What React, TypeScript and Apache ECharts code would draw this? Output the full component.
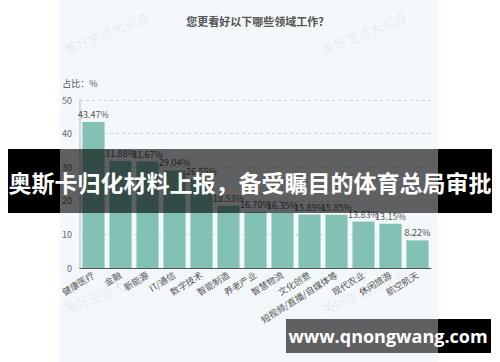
import React, { useEffect, useRef } from "react";
import * as echarts from "echarts";

const categories = [
  "健康医疗", "金融", "新能源", "IT/通信", "数字技术", "智能制造", "养老产业",
  "智慧物流", "文化创意", "短视频/直播/自媒体等", "现代农业", "休闲旅游", "航空航天",
];
const values = [43.47, 31.88, 31.67, 29.04, 26.55, 18.53, 16.7, 16.35, 15.89, 15.85, 13.83, 13.15, 8.22];
const titleText = "您更看好以下哪些领域工作?";
const yAxisName = "占比：%";
const watermark = "美好生活大调查";
const bannerText = "奥斯卡归化材料上报，备受瞩目的体育总局审批";
const siteText = "www.qnongwang.com";

const FONT = "'Noto Sans CJK SC', 'Noto Sans', sans-serif";

export default function App() {
  const ref = useRef<HTMLDivElement>(null);
  useEffect(() => {
    if (!ref.current) return;
    const chart = echarts.init(ref.current, null, { renderer: "svg" });
    const wm = (x: number, y: number) => ({
      type: "text",
      x,
      y,
      rotation: (22 * Math.PI) / 180,
      z: 1,
      style: {
        text: watermark,
        fill: "rgba(0,0,0,0.07)",
        font: `13px ${FONT}`,
        align: "center",
        verticalAlign: "middle",
      },
    });
    chart.setOption({
      animation: false,
      backgroundColor: "#ffffff",
      textStyle: { fontFamily: FONT },
      title: {
        text: titleText,
        left: 250,
        top: 10,
        textAlign: "center",
        textStyle: { fontSize: 11, fontWeight: "bold", color: "#555", fontFamily: FONT },
      },
      grid: { left: 80, right: 69, top: 100, bottom: 94 },
      xAxis: {
        type: "category",
        data: categories,
        axisLine: { lineStyle: { color: "#555", width: 1 } },
        axisTick: { show: false },
        axisLabel: { interval: 0, rotate: 32, fontSize: 9, color: "#555", margin: 6 },
      },
      yAxis: {
        type: "value",
        min: 0,
        max: 50,
        interval: 10,
        name: yAxisName,
        nameGap: 12,
        nameTextStyle: { fontSize: 9, color: "#555", align: "center" },
        axisLine: { show: true, lineStyle: { color: "#d8d8d8", width: 2 } },
        axisTick: { show: false },
        axisLabel: { fontSize: 9, color: "#666", margin: 8 },
        splitLine: { lineStyle: { type: [3, 3], color: "#d6d6d6" } },
      },
      series: [
        {
          type: "bar",
          data: values,
          barCategoryGap: "18%",
          itemStyle: { color: "#82c1b4" },
          z: 5,
          label: {
            show: true,
            position: "top",
            distance: 3,
            fontSize: 9,
            color: "#555",
            formatter: (p: any) => `${Number(p.value).toFixed(2)}%`,
          },
        },
      ],
      graphic: [
        { type: "rect", shape: { x: 60, y: 0, width: 378, height: 362 }, style: { fill: "#f3f8fb" }, z: -10, silent: true },
        wm(106, 33),
        wm(364, 33),
        wm(106, 292),
        wm(364, 292),
        { type: "rect", shape: { x: 8, y: 149, width: 52, height: 64 }, style: { fill: "#000" }, z: 100 },
        { type: "rect", shape: { x: 60, y: 149, width: 378, height: 64 }, style: { fill: "rgba(0,0,0,0.61)" }, z: 100 },
        { type: "rect", shape: { x: 438, y: 149, width: 54, height: 64 }, style: { fill: "#000" }, z: 100 },
        {
          type: "text",
          x: 250,
          y: 182,
          z: 101,
          style: {
            text: bannerText,
            fill: "#fff",
            font: `bold 23px ${FONT}`,
            align: "center",
            verticalAlign: "middle",
          },
        },
        { type: "rect", shape: { x: 286, y: 319, width: 152, height: 34 }, style: { fill: "rgba(0,0,0,0.61)" }, z: 100 },
        { type: "rect", shape: { x: 438, y: 319, width: 53, height: 34 }, style: { fill: "#000" }, z: 100 },
        {
          type: "text",
          x: 388,
          y: 336,
          z: 101,
          style: {
            text: siteText,
            fill: "#fff",
            font: `bold 18px 'Open Sans', 'DejaVu Sans', sans-serif`,
            align: "center",
            verticalAlign: "middle",
          },
        },
      ],
    });
    return () => chart.dispose();
  }, []);
  return (
    <div style={{ position: "absolute", left: 0, top: 0, width: 500, height: 362 }}>
      <div ref={ref} style={{ width: 500, height: 362 }} />
    </div>
  );
}
